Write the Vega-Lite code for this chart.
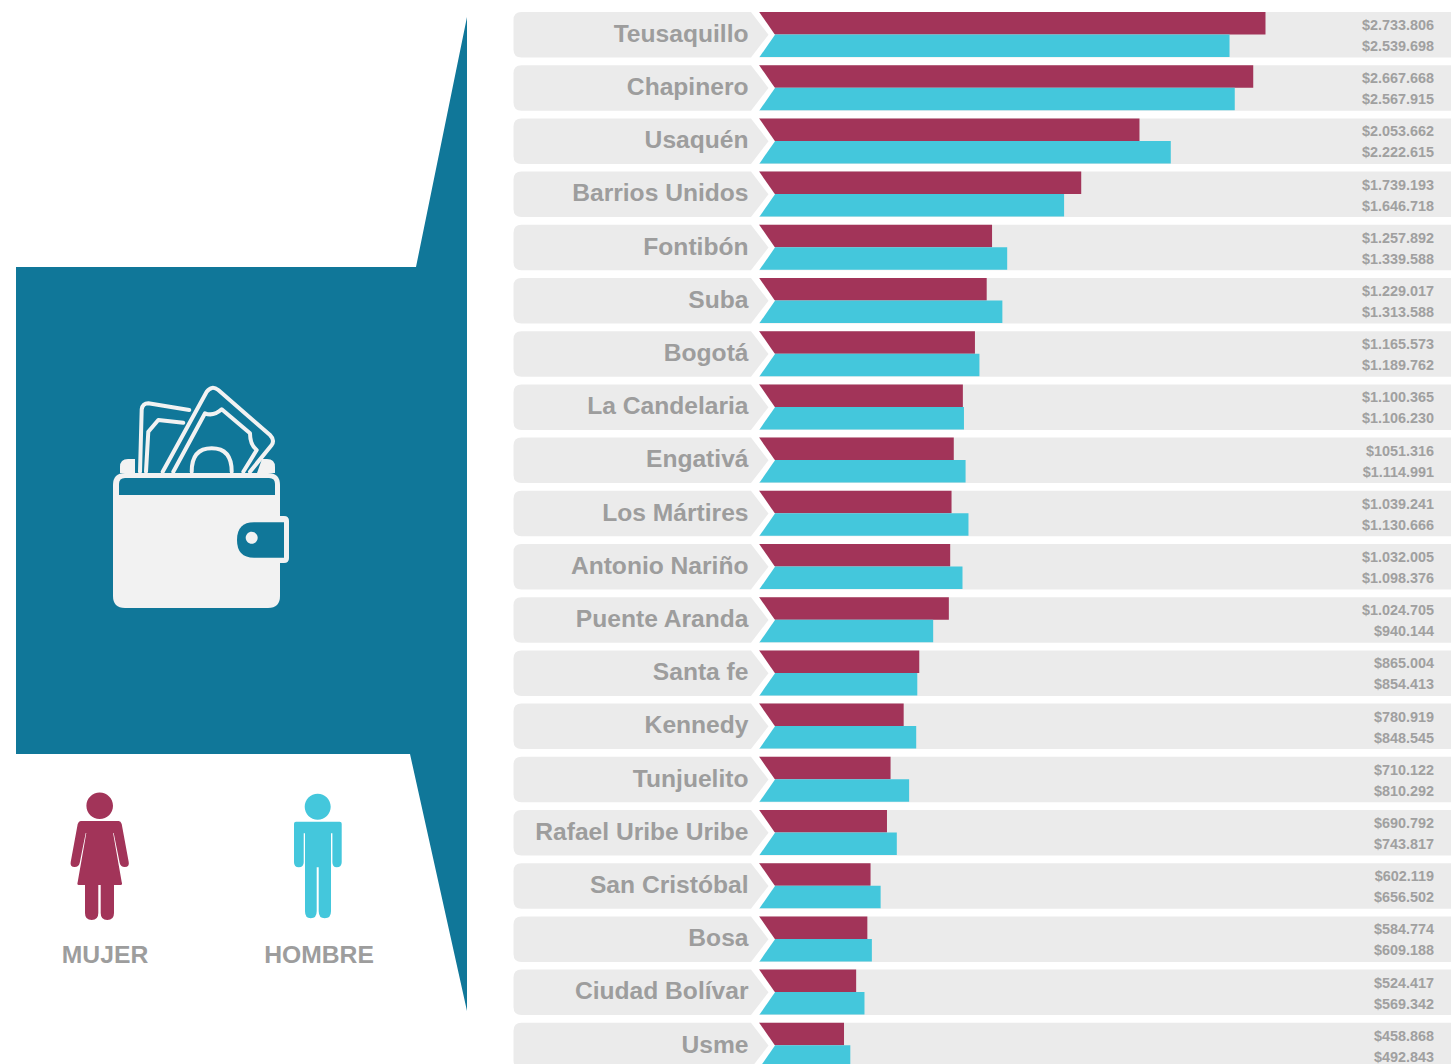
{
"$schema":"https://vega.github.io/schema/vega-lite/v6.json",
"width":1451,"height":1064,"padding":0,"autosize":{"type":"none"},"background":"#ffffff",
"config":{"view":{"stroke":null}},
"datasets":{
"filas":[{"barrio":"Teusaquillo"},{"barrio":"Chapinero"},{"barrio":"Usaquén"},{"barrio":"Barrios Unidos"},{"barrio":"Fontibón"},{"barrio":"Suba"},{"barrio":"Bogotá"},{"barrio":"La Candelaria"},{"barrio":"Engativá"},{"barrio":"Los Mártires"},{"barrio":"Antonio Nariño"},{"barrio":"Puente Aranda"},{"barrio":"Santa fe"},{"barrio":"Kennedy"},{"barrio":"Tunjuelito"},{"barrio":"Rafael Uribe Uribe"},{"barrio":"San Cristóbal"},{"barrio":"Bosa"},{"barrio":"Ciudad Bolívar"},{"barrio":"Usme"}],
"ingresos":[
{"barrio":"Teusaquillo","sexo":"Mujer","ingreso":2733806,"etiqueta":"$2.733.806"},{"barrio":"Teusaquillo","sexo":"Hombre","ingreso":2539698,"etiqueta":"$2.539.698"},
{"barrio":"Chapinero","sexo":"Mujer","ingreso":2667668,"etiqueta":"$2.667.668"},{"barrio":"Chapinero","sexo":"Hombre","ingreso":2567915,"etiqueta":"$2.567.915"},
{"barrio":"Usaquén","sexo":"Mujer","ingreso":2053662,"etiqueta":"$2.053.662"},{"barrio":"Usaquén","sexo":"Hombre","ingreso":2222615,"etiqueta":"$2.222.615"},
{"barrio":"Barrios Unidos","sexo":"Mujer","ingreso":1739193,"etiqueta":"$1.739.193"},{"barrio":"Barrios Unidos","sexo":"Hombre","ingreso":1646718,"etiqueta":"$1.646.718"},
{"barrio":"Fontibón","sexo":"Mujer","ingreso":1257892,"etiqueta":"$1.257.892"},{"barrio":"Fontibón","sexo":"Hombre","ingreso":1339588,"etiqueta":"$1.339.588"},
{"barrio":"Suba","sexo":"Mujer","ingreso":1229017,"etiqueta":"$1.229.017"},{"barrio":"Suba","sexo":"Hombre","ingreso":1313588,"etiqueta":"$1.313.588"},
{"barrio":"Bogotá","sexo":"Mujer","ingreso":1165573,"etiqueta":"$1.165.573"},{"barrio":"Bogotá","sexo":"Hombre","ingreso":1189762,"etiqueta":"$1.189.762"},
{"barrio":"La Candelaria","sexo":"Mujer","ingreso":1100365,"etiqueta":"$1.100.365"},{"barrio":"La Candelaria","sexo":"Hombre","ingreso":1106230,"etiqueta":"$1.106.230"},
{"barrio":"Engativá","sexo":"Mujer","ingreso":1051316,"etiqueta":"$1051.316"},{"barrio":"Engativá","sexo":"Hombre","ingreso":1114991,"etiqueta":"$1.114.991"},
{"barrio":"Los Mártires","sexo":"Mujer","ingreso":1039241,"etiqueta":"$1.039.241"},{"barrio":"Los Mártires","sexo":"Hombre","ingreso":1130666,"etiqueta":"$1.130.666"},
{"barrio":"Antonio Nariño","sexo":"Mujer","ingreso":1032005,"etiqueta":"$1.032.005"},{"barrio":"Antonio Nariño","sexo":"Hombre","ingreso":1098376,"etiqueta":"$1.098.376"},
{"barrio":"Puente Aranda","sexo":"Mujer","ingreso":1024705,"etiqueta":"$1.024.705"},{"barrio":"Puente Aranda","sexo":"Hombre","ingreso":940144,"etiqueta":"$940.144"},
{"barrio":"Santa fe","sexo":"Mujer","ingreso":865004,"etiqueta":"$865.004"},{"barrio":"Santa fe","sexo":"Hombre","ingreso":854413,"etiqueta":"$854.413"},
{"barrio":"Kennedy","sexo":"Mujer","ingreso":780919,"etiqueta":"$780.919"},{"barrio":"Kennedy","sexo":"Hombre","ingreso":848545,"etiqueta":"$848.545"},
{"barrio":"Tunjuelito","sexo":"Mujer","ingreso":710122,"etiqueta":"$710.122"},{"barrio":"Tunjuelito","sexo":"Hombre","ingreso":810292,"etiqueta":"$810.292"},
{"barrio":"Rafael Uribe Uribe","sexo":"Mujer","ingreso":690792,"etiqueta":"$690.792"},{"barrio":"Rafael Uribe Uribe","sexo":"Hombre","ingreso":743817,"etiqueta":"$743.817"},
{"barrio":"San Cristóbal","sexo":"Mujer","ingreso":602119,"etiqueta":"$602.119"},{"barrio":"San Cristóbal","sexo":"Hombre","ingreso":656502,"etiqueta":"$656.502"},
{"barrio":"Bosa","sexo":"Mujer","ingreso":584774,"etiqueta":"$584.774"},{"barrio":"Bosa","sexo":"Hombre","ingreso":609188,"etiqueta":"$609.188"},
{"barrio":"Ciudad Bolívar","sexo":"Mujer","ingreso":524417,"etiqueta":"$524.417"},{"barrio":"Ciudad Bolívar","sexo":"Hombre","ingreso":569342,"etiqueta":"$569.342"},
{"barrio":"Usme","sexo":"Mujer","ingreso":458868,"etiqueta":"$458.868"},{"barrio":"Usme","sexo":"Hombre","ingreso":492843,"etiqueta":"$492.843"}
],
"leyenda":[{"sexo":"MUJER"},{"sexo":"HOMBRE"}],
"panel":[{"pieza":"panel"}],
"cartera":[{"pieza":"trasera"},{"pieza":"cuerpo"},{"pieza":"solapa"},{"pieza":"broche"},{"pieza":"boton"},{"pieza":"punto"}],
"billetes":[{"pieza":"b1"},{"pieza":"b2"},{"pieza":"b3"},{"pieza":"b4"},{"pieza":"b5"}]
},
"layer":[
{"data":{"name":"panel"},
 "mark":{"type":"point","filled":true,"opacity":1,"size":4,"strokeWidth":0},
 "encoding":{
  "x":{"field":"pieza","type":"nominal","axis":null,"scale":{"type":"point","domain":["panel","x"],"range":[241,241],"padding":0}},
  "y":{"field":"pieza","type":"nominal","axis":null,"scale":{"type":"point","domain":["panel","x"],"range":[514,514],"padding":0}},
  "shape":{"value":"M-225,-247L175,-247L226,-497L226,497L169,240L-225,240Z"},
  "color":{"value":"#107799"}
 }},
{"data":{"name":"billetes"},
 "mark":{"type":"point","filled":false,"opacity":1,"size":4,"strokeWidth":4,"strokeCap":"round","strokeJoin":"round"},
 "encoding":{
  "x":{"datum":"cartera","type":"nominal","axis":null,"scale":{"type":"point","domain":["cartera","x"],"range":[197,197],"padding":0}},
  "y":{"datum":"cartera","type":"nominal","axis":null,"scale":{"type":"point","domain":["cartera","x"],"range":[500,500],"padding":0}},
  "shape":{"field":"pieza","type":"nominal","legend":null,"scale":{"domain":["b1","b2","b3","b4","b5"],"range":[
   "M-57,-28.3L-55.3,-90.7Q-54.3,-96.7 -48.7,-96.7L-7.7,-90",
   "M-51,-28.3L-48.7,-68.3L-38.7,-80L-13.7,-77.3",
   "M-34.3,-28.3L9.7,-108.3Q14.7,-115 21.3,-110L73,-65Q78,-60 74.7,-55L53,-28.3",
   "M-23.7,-28.3L8,-86.7Q16.3,-83.3 24.7,-90.7L53,-66.7Q53,-55 59.7,-50L46.3,-28.3",
   "M-5.3,-28.3Q-5.3,-51.7 14.7,-51.7Q34.7,-51.7 34.7,-28.3"
  ]}},
  "color":{"value":"#f2f2f2"}
 }},
{"data":{"name":"cartera"},
 "mark":{"type":"point","filled":true,"opacity":1,"size":4,"strokeWidth":0},
 "encoding":{
  "x":{"datum":"cartera","type":"nominal","axis":null,"scale":{"type":"point","domain":["cartera","x"],"range":[197,197],"padding":0}},
  "y":{"datum":"cartera","type":"nominal","axis":null,"scale":{"type":"point","domain":["cartera","x"],"range":[500,500],"padding":0}},
  "shape":{"field":"pieza","type":"nominal","legend":null,"scale":{"domain":["trasera","cuerpo","solapa","broche","boton","punto"],"range":[
   "M-77,-27L-77,-33Q-77,-41 -69,-41L-62,-41L-62,-27ZM65,-41L70,-41Q78,-41 78,-33L78,-27L60,-27Z",
   "M-84,-15Q-84,-27 -72,-27L71,-27Q83,-27 83,-15L83,96Q83,108 71,108L-72,108Q-84,108 -84,96Z",
   "M-78,-5L-78,-16Q-78,-22 -72,-22L72,-22Q78,-22 78,-16L78,-5Z",
   "M60,16L87,16Q92,16 92,21L92,58Q92,63 87,63L60,63Z",
   "M87,22.3L57,22.3Q40,22.3 40,40Q40,57.7 57,57.7L87,57.7Z",
   "M48.7,37.7A6,6 0 1 1 60.7,37.7A6,6 0 1 1 48.7,37.7Z"
  ]}},
  "color":{"field":"pieza","type":"nominal","legend":null,"scale":{"domain":["trasera","cuerpo","solapa","broche","boton","punto"],"range":["#f2f2f2","#f2f2f2","#107799","#f2f2f2","#107799","#f2f2f2"]}}
 }},
{"data":{"name":"leyenda"},
 "mark":{"type":"point","filled":true,"opacity":1,"size":4,"strokeWidth":0},
 "encoding":{
  "x":{"field":"sexo","type":"nominal","axis":null,"scale":{"type":"point","domain":["MUJER","HOMBRE"],"range":[99.7,317.7],"padding":0}},
  "y":{"field":"sexo","type":"nominal","axis":null,"scale":{"type":"point","domain":["MUJER","HOMBRE"],"range":[860,860],"padding":0}},
  "shape":{"field":"sexo","type":"nominal","legend":null,"scale":{"domain":["MUJER","HOMBRE"],"range":[
   "M-13.3,-54.3A13.3,13.3 0 1 1 13.3,-54.3A13.3,13.3 0 1 1 -13.3,-54.3ZM-19,-39L19,-39Q21,-39 22,-36L29,2Q30,7 25,7Q21,7 20,3L14,-27L13.4,-27L22,22Q23,25 21,25L14.3,25L14.3,53Q14.3,60 7.6,60Q1,60 1,53L1,25L-1.4,25L-1.4,53Q-1.4,60 -8,60Q-14.7,60 -14.7,53L-14.7,25L-21,25Q-23,25 -22,22L-13.4,-27L-14,-27L-20,3Q-21,7 -25,7Q-30,7 -29,2L-22,-36Q-21,-39 -19,-39Z",
   "M-13,-53.3A13,13 0 1 1 13,-53.3A13,13 0 1 1 -13,-53.3ZM-21.7,-38.3L22,-38.3Q24,-38.3 24,-36.3L24,2.3Q24,7.3 19,7.3Q14.7,7.3 14.7,2.3L14.7,-26.7L13.3,-26.7L13.3,51.3Q13.3,58.3 7,58.3Q1,58.3 1,51.3L1,7.3L-1,7.3L-1,51.3Q-1,58.3 -7,58.3Q-12.7,58.3 -12.7,51.3L-12.7,-26.7L-14,-26.7L-14,2.3Q-14,7.3 -18.9,7.3Q-23.7,7.3 -23.7,2.3L-23.7,-36.3Q-23.7,-38.3 -21.7,-38.3Z"
  ]}},
  "color":{"field":"sexo","type":"nominal","legend":null,"scale":{"domain":["MUJER","HOMBRE"],"range":["#a23459","#44c7dc"]}}
 }},
{"data":{"name":"leyenda"},
 "mark":{"type":"text","font":"Liberation Sans","fontWeight":"bold","fontSize":24.7,"align":"center","baseline":"middle","color":"#9d9d9d"},
 "encoding":{
  "x":{"field":"sexo","type":"nominal","axis":null,"scale":{"type":"point","domain":["MUJER","HOMBRE"],"range":[105,319],"padding":0}},
  "y":{"field":"sexo","type":"nominal","axis":null,"scale":{"type":"point","domain":["MUJER","HOMBRE"],"range":[955.5,955.5],"padding":0}},
  "text":{"field":"sexo"}
 }},
{
"layer":[
{"data":{"name":"filas"},
 "mark":{"type":"bar","color":"#ebebeb"},
 "encoding":{
  "x":{"datum":0,"type":"quantitative","axis":null,"scale":{"domain":[-4096723,3735100],"zero":false,"nice":false}},
  "x2":{"datum":3735100},
  "y":{"field":"barrio","type":"nominal","sort":null,"axis":null,"scale":{"range":[12,1068.3],"paddingInner":0.1447,"paddingOuter":0}}
 }},
{"data":{"name":"ingresos"},
 "mark":{"type":"bar"},
 "encoding":{
  "x":{"field":"ingreso","type":"quantitative","stack":null,"axis":null},
  "x2":{"datum":0},
  "y":{"field":"barrio","type":"nominal","sort":null,"axis":null},
  "yOffset":{"field":"sexo","type":"nominal","scale":{"domain":["Mujer","Hombre"],"range":[0,45],"paddingInner":0,"paddingOuter":0}},
  "color":{"field":"sexo","type":"nominal","legend":null,"scale":{"domain":["Mujer","Hombre"],"range":["#a23459","#44c7dc"]}}
 }},
{"data":{"name":"filas"},
 "mark":{"type":"point","filled":true,"opacity":1,"size":4,"color":"#ffffff","strokeWidth":0},
 "encoding":{
  "x":{"datum":0,"type":"quantitative"},
  "y":{"field":"barrio","type":"nominal","sort":null,"axis":null},
  "shape":{"value":"M-1,-24L0,-23L16,0L0,23L-1,24Z"}
 }},
{"data":{"name":"filas"},
 "mark":{"type":"point","filled":true,"opacity":1,"size":4,"color":"#ebebeb","strokeWidth":0},
 "encoding":{
  "x":{"datum":0,"type":"quantitative"},
  "y":{"field":"barrio","type":"nominal","sort":null,"axis":null},
  "shape":{"value":"M-237.5,-22.75L-8,-22.75L9.5,0L-8,22.75L-237.5,22.75Q-245.5,22.75 -245.5,14.75L-245.5,-14.75Q-245.5,-22.75 -237.5,-22.75Z"}
 }},
{"data":{"name":"filas"},
 "mark":{"type":"text","font":"Liberation Sans","fontWeight":"bold","fontSize":24.6,"align":"right","baseline":"middle","color":"#9d9d9d","dx":-10.5},
 "encoding":{
  "x":{"datum":0,"type":"quantitative"},
  "y":{"field":"barrio","type":"nominal","sort":null,"axis":null},
  "text":{"field":"barrio"}
 }},
{"data":{"name":"ingresos"},
 "mark":{"type":"text","font":"Liberation Sans","fontWeight":"bold","fontSize":14.4,"align":"right","baseline":"middle","color":"#a0a0a0"},
 "encoding":{
  "x":{"datum":3643000,"type":"quantitative"},
  "y":{"field":"barrio","type":"nominal","sort":null,"axis":null},
  "yOffset":{"field":"sexo","type":"nominal","scale":{"domain":["Mujer","Hombre"],"range":[14,35],"paddingInner":0,"paddingOuter":0}},
  "text":{"field":"etiqueta"}
 }}
],
"resolve":{"scale":{"yOffset":"independent"}}
}
],
"resolve":{"scale":{"x":"independent","y":"independent","color":"independent","shape":"independent"}}
}
